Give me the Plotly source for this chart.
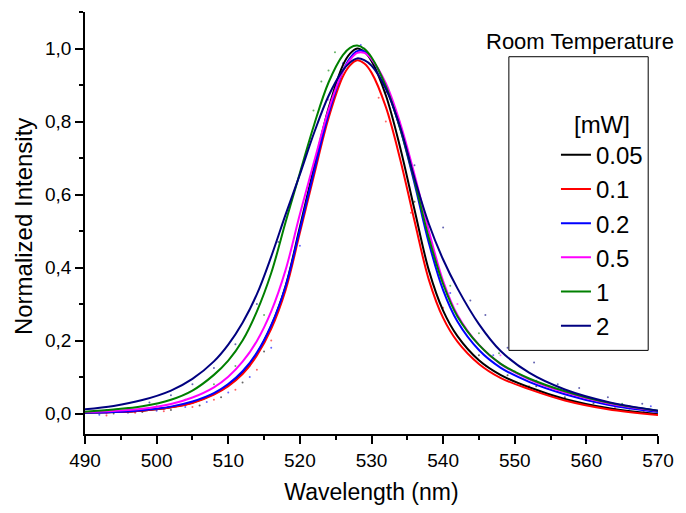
import plotly.graph_objects as go

# ---- data ----
wl = [490, 494, 498, 502, 505, 508, 510, 512, 514, 516, 518, 520, 522, 524, 526, 527,
      528, 529, 530, 532, 534, 536, 538, 540, 542, 545, 548, 552, 557, 563, 570]

fit_005 = [0.002, 0.004, 0.008, 0.017, 0.030, 0.054, 0.077, 0.112, 0.164, 0.240, 0.349, 0.511, 0.677, 0.836, 0.954, 0.986,
           1.000, 0.991, 0.966, 0.872, 0.729, 0.559, 0.393, 0.282, 0.212, 0.146, 0.106, 0.072, 0.040, 0.015, -0.002]
fit_01 = [0.002, 0.004, 0.008, 0.017, 0.029, 0.052, 0.075, 0.108, 0.159, 0.232, 0.338, 0.495, 0.655, 0.809, 0.923, 0.954,
          0.968, 0.959, 0.934, 0.840, 0.697, 0.528, 0.367, 0.262, 0.197, 0.136, 0.098, 0.067, 0.036, 0.012, -0.004]
fit_02 = [0.002, 0.004, 0.009, 0.019, 0.033, 0.056, 0.081, 0.116, 0.167, 0.242, 0.348, 0.504, 0.665, 0.820, 0.938, 0.974,
          0.993, 0.992, 0.972, 0.898, 0.781, 0.631, 0.468, 0.338, 0.252, 0.174, 0.126, 0.087, 0.053, 0.024, 0.004]
fit_05 = [0.004, 0.007, 0.013, 0.026, 0.044, 0.072, 0.101, 0.142, 0.199, 0.280, 0.393, 0.546, 0.691, 0.832, 0.938, 0.969,
          0.988, 0.988, 0.971, 0.905, 0.796, 0.655, 0.501, 0.363, 0.270, 0.188, 0.136, 0.094, 0.058, 0.028, 0.007]
fit_1 = [0.005, 0.011, 0.020, 0.038, 0.063, 0.106, 0.145, 0.200, 0.280, 0.385, 0.524, 0.659, 0.792, 0.907, 0.982, 1.002,
         1.008, 0.999, 0.976, 0.897, 0.781, 0.638, 0.482, 0.355, 0.266, 0.188, 0.137, 0.096, 0.061, 0.030, 0.008]
fit_2 = [0.012, 0.021, 0.037, 0.063, 0.095, 0.143, 0.189, 0.249, 0.327, 0.430, 0.545, 0.655, 0.770, 0.870, 0.940, 0.962,
         0.973, 0.968, 0.953, 0.890, 0.785, 0.645, 0.520, 0.422, 0.343, 0.245, 0.172, 0.112, 0.066, 0.032, 0.008]

# raw measured points (sparse dots)
raw_x_005 = [494, 498, 502, 506, 509, 512, 515, 527.5, 532, 536, 545, 549, 553, 557, 561, 566]
raw_y_005 = [0.000, 0.004, 0.010, 0.022, 0.045, 0.085, 0.170, 0.985, 0.880, 0.580, 0.160, 0.105, 0.075, 0.045, 0.028, 0.014]
raw_x_01 = [493, 497, 501, 505, 508, 511, 514, 516, 531, 532, 535.5, 540, 546, 552, 558, 564, 568]
raw_y_01 = [-0.005, 0.002, 0.006, 0.018, 0.038, 0.065, 0.120, 0.200, 0.865, 0.800, 0.550, 0.290, 0.130, 0.075, 0.035, 0.015, 0.005]
raw_x_02 = [492, 496, 500, 504, 507, 510, 513, 516, 520, 526, 528.5, 533, 541, 547, 553, 559, 565, 569]
raw_y_02 = [-0.003, 0.002, 0.008, 0.018, 0.032, 0.058, 0.100, 0.180, 0.460, 0.960, 1.010, 0.840, 0.330, 0.160, 0.090, 0.050, 0.025, 0.020]
raw_x_05 = [493, 497, 501, 504, 507, 510, 513, 517, 524, 529, 534, 542, 548, 554, 560, 566]
raw_y_05 = [0.000, 0.005, 0.012, 0.024, 0.045, 0.075, 0.130, 0.290, 0.860, 1.000, 0.780, 0.300, 0.160, 0.080, 0.040, 0.020]
raw_x_1 = [492, 496, 500, 504, 508, 511, 515, 521.9, 523, 524, 524.9, 541, 545, 547.8, 550, 556, 561, 565]
raw_y_1 = [0.004, 0.010, 0.020, 0.038, 0.080, 0.130, 0.270, 0.830, 0.910, 0.940, 0.990, 0.350, 0.220, 0.165, 0.115, 0.060, 0.035, 0.027]
raw_x_2 = [493, 496, 499, 502, 505, 508, 511, 514, 517, 532, 536, 540, 543.8, 545.9, 549, 552.7, 556, 559, 563, 567.8]
raw_y_2 = [0.010, 0.015, 0.030, 0.050, 0.080, 0.125, 0.190, 0.300, 0.470, 0.900, 0.680, 0.510, 0.310, 0.270, 0.180, 0.140, 0.080, 0.070, 0.045, 0.027]

names = ["0.05", "0.1", "0.2", "0.5", "1", "2"]
fits = [fit_005, fit_01, fit_02, fit_05, fit_1, fit_2]
raws_x = [raw_x_005, raw_x_01, raw_x_02, raw_x_05, raw_x_1, raw_x_2]
raws_y = [raw_y_005, raw_y_01, raw_y_02, raw_y_05, raw_y_1, raw_y_2]
colors = ["#000000", "#FF0000", "#0000FF", "#FF00FF", "#008000", "#000080"]

FONT = "Liberation Sans, Arial, sans-serif"

fig = go.Figure()
for rx, ry, c in zip(raws_x, raws_y, colors):
    fig.add_trace(go.Scatter(x=rx, y=ry, mode="markers", showlegend=False,
                             marker=dict(size=2, color=c, opacity=0.6), hoverinfo="skip"))
for n, f, c in zip(names, fits, colors):
    fig.add_trace(go.Scatter(x=wl, y=f, mode="lines", name=n,
                             line=dict(color=c, width=2, shape="spline", smoothing=1.0)))

fig.update_layout(
    width=686, height=513,
    margin=dict(l=85, r=17, t=12, b=67),
    paper_bgcolor="white", plot_bgcolor="white",
    separators=",.",
    font=dict(family=FONT, color="black", size=19),
    showlegend=True,
    legend=dict(
        x=(565 - 85) / 584, xanchor="left",
        y=(446 - 104) / 434, yanchor="top",
        bgcolor="rgba(0,0,0,0)", borderwidth=0,
        font=dict(family=FONT, size=24, color="black"),
        title=dict(text="[mW]", side="top center", font=dict(family=FONT, size=24, color="black")),
        tracegroupgap=0,
    ),
    shapes=[dict(type="rect", xref="paper", yref="paper",
                 x0=(517 - 85) / 584, x1=(659 - 85) / 584,
                 y0=(446 - 360) / 434, y1=(446 - 58) / 434,
                 line=dict(color="black", width=1), fillcolor="rgba(0,0,0,0)", layer="below")],
    annotations=[
        dict(text="Room Temperature", xref="paper", yref="paper",
             x=(589 - 85) / 584, y=(446 - 42) / 434, xanchor="center", yanchor="middle",
             showarrow=False, font=dict(family=FONT, size=22, color="black")),
        dict(text="Normalized Intensity", xref="paper", yref="paper",
             x=(23 - 85) / 584, y=(446 - 233) / 434, xanchor="center", yanchor="middle",
             textangle=-90, showarrow=False, font=dict(family=FONT, size=24, color="black")),
    ],
)

fig.update_xaxes(
    range=[490, 570.001], tick0=490, dtick=10, ticks="outside", ticklen=8, tickwidth=1.5,
    tickcolor="black", showline=True, linecolor="black", linewidth=1.5, showgrid=False,
    zeroline=False, mirror=False,
    minor=dict(dtick=5, ticks="outside", ticklen=4, tickwidth=1.5, tickcolor="black", showgrid=False),
    tickfont=dict(family=FONT, size=19, color="black"),
    title=dict(text="Wavelength (nm)", font=dict(family=FONT, size=23, color="black"), standoff=14),
)
fig.update_yaxes(
    range=[-0.056, 1.1001], tick0=0, dtick=0.2, tickformat=".1f", ticks="outside", ticklen=8,
    tickwidth=1.5, tickcolor="black", showline=True, linecolor="black", linewidth=1.5,
    showgrid=False, zeroline=False, mirror=False,
    minor=dict(dtick=0.1, ticks="outside", ticklen=4, tickwidth=1.5, tickcolor="black", showgrid=False),
    tickfont=dict(family=FONT, size=19, color="black"),
)

fig.write_html("out.html")
